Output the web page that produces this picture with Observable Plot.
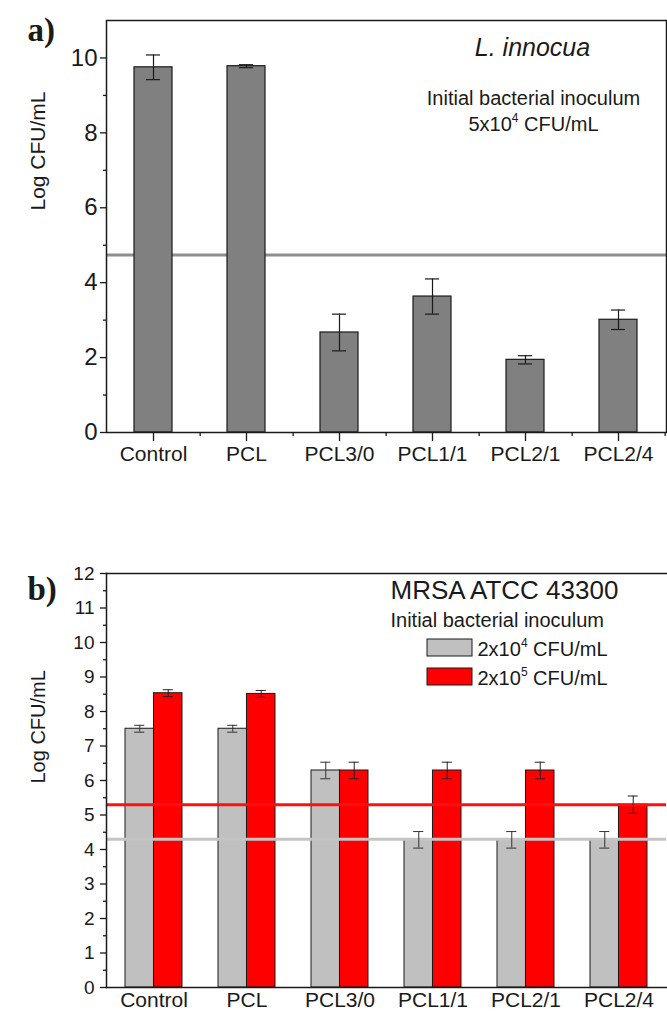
<!DOCTYPE html>
<html><head><meta charset="utf-8">
<script src="https://cdn.jsdelivr.net/npm/d3@7"></script>
<script src="https://cdn.jsdelivr.net/npm/@observablehq/plot@0.6"></script>
<style>
body{margin:0;background:#fff;}
#chart{width:667px;height:1015px;overflow:hidden;}
#chart svg{display:block;}
</style></head><body><div id="chart"></div>
<script>
// ---- data ----
const categories = ["Control", "PCL", "PCL3/0", "PCL1/1", "PCL2/1", "PCL2/4"];
// a) L. innocua
const innocuaMean = [9.75, 9.78, 2.67, 3.63, 1.94, 3.01];
const innocuaErr  = [0.33, 0.04, 0.49, 0.47, 0.11, 0.26];
const innocuaInoculum = 4.74;
const topMajorTicks = [0, 2, 4, 6, 8, 10];
const topMinorTicks = [1, 3, 5, 7, 9];
// b) MRSA ATCC 43300
const seriesNames = ["2x10^4 CFU/mL", "2x10^5 CFU/mL"];
const mrsaLowMean  = [7.50, 7.50, 6.29, 4.28, 4.28, 4.28];
const mrsaLowErr   = [0.10, 0.10, 0.24, 0.24, 0.24, 0.24];
const mrsaHighMean = [8.53, 8.51, 6.29, 6.29, 6.29, 5.30];
const mrsaHighErr  = [0.10, 0.10, 0.24, 0.24, 0.24, 0.25];
const mrsaInoculum = [4.3, 5.3];
const botMajorTicks = [0,1,2,3,4,5,6,7,8,9,10,11,12];
const botMinorTicks = [0.5,1.5,2.5,3.5,4.5,5.5,6.5,7.5,8.5,9.5,10.5,11.5];

const FONT = "'Liberation Sans', Arial, Helvetica, sans-serif";
const INK = "#1a1a1a";
const W = 667, ML = 106, MR = 1;
const step = (W - ML - MR) / categories.length;

const topRows = categories.map((c, i) => ({cat: c, mean: innocuaMean[i], err: innocuaErr[i]}));
const lowRows = categories.map((c, i) => ({cat: c, mean: mrsaLowMean[i], err: mrsaLowErr[i]}));
const highRows = categories.map((c, i) => ({cat: c, mean: mrsaHighMean[i], err: mrsaHighErr[i]}));

function supers(svg) {
  d3.select(svg).selectAll("text").each(function () {
    const t = this.textContent;
    const m = t.match(/^(.*)\^(\d)(.*)$/);
    if (!m) return;
    const fs = parseFloat(this.parentNode.getAttribute("font-size")) || 20;
    const sel = d3.select(this); sel.text(null);
    sel.append("tspan").text(m[1]);
    sel.append("tspan").attr("dy", -0.45 * fs).attr("font-size", 0.6 * fs).text(m[2]);
    sel.append("tspan").attr("dy", 0.45 * fs).text(m[3]);
  });
}
function axisFont(svg, which, size) {
  d3.select(svg).selectAll("g").filter(function () {
    const a = this.getAttribute("aria-label") || "";
    return a.startsWith(which + "-axis") && a.includes("label");
  }).style("font-size", size + "px").selectAll("text").style("font-size", size + "px");
}

// ---- a) ----
const topPlot = Plot.plot({
  width: W, height: 500, marginTop: 20, marginRight: MR, marginBottom: 68, marginLeft: ML,
  style: {fontFamily: FONT, fontSize: "21px", color: INK, background: "white", overflow: "visible"},
  x: {domain: categories, paddingInner: 0.59, paddingOuter: 0.295, label: null},
  y: {domain: [0, 11], label: null},
  marks: [
    Plot.ruleY([innocuaInoculum], {stroke: "#8e8e8e", strokeWidth: 3}),
    Plot.barY(topRows, {x: "cat", y: "mean", fill: "#808080", stroke: INK, strokeWidth: 1.2}),
    Plot.ruleX(topRows, {x: "cat", y1: d => d.mean - d.err, y2: d => d.mean + d.err, stroke: INK, strokeWidth: 1.2}),
    Plot.tickY(topRows, {x: "cat", y: d => d.mean - d.err, insetLeft: 12, insetRight: 12, stroke: INK, strokeWidth: 1.2}),
    Plot.tickY(topRows, {x: "cat", y: d => d.mean + d.err, insetLeft: 12, insetRight: 12, stroke: INK, strokeWidth: 1.2}),
    Plot.frame({stroke: INK, strokeWidth: 1.5}),
    Plot.axisY({ticks: topMajorTicks, tickSize: 6, tickPadding: 3, label: null, stroke: INK, strokeWidth: 1.3}),
    Plot.axisY({ticks: topMinorTicks, tickSize: 3, tickFormat: () => "", label: null, stroke: INK, strokeWidth: 1.3}),
    Plot.axisX({tickSize: 9, tickPadding: 5, label: null, stroke: INK, strokeWidth: 1.3}),
    Plot.axisX({tickSize: 4, tickFormat: () => "", label: null, dx: step / 2, stroke: INK, strokeWidth: 1.3}),
    Plot.text(["Log CFU/mL"], {frameAnchor: "left", rotate: -90, dx: -68, dy: -16, fontSize: 21, lineAnchor: "middle", fill: INK}),
    Plot.text(["a)"], {frameAnchor: "top-left", dx: -79, dy: -3, lineAnchor: "top", textAnchor: "start", fontSize: 33, fontWeight: "bold", fontFamily: "'Liberation Serif', 'Times New Roman', serif", fill: INK}),
    Plot.text(["L. innocua"], {frameAnchor: "top-right", dx: -134, dy: 35, lineAnchor: "bottom", textAnchor: "middle", fontSize: 25, fontStyle: "italic", fill: INK}),
    Plot.text(["Initial bacterial inoculum"], {frameAnchor: "top-right", dx: -133, dy: 84, lineAnchor: "bottom", textAnchor: "middle", fontSize: 20, fill: INK}),
    Plot.text(["5x10^4 CFU/mL"], {frameAnchor: "top-right", dx: -133, dy: 110, lineAnchor: "bottom", textAnchor: "middle", fontSize: 20, fill: INK})
  ]
});
supers(topPlot);
axisFont(topPlot, "y", 24);
axisFont(topPlot, "x", 21);

// ---- b) ----
const pi = 0.39;
const bw = step * (1 - pi);
const half = bw / 2, cap = 10;
const lowCapL = bw / 4 - cap / 2, lowCapR = bw - bw / 4 - cap / 2;
const botPlot = Plot.plot({
  width: W, height: 515, marginTop: 73, marginRight: MR, marginBottom: 28, marginLeft: ML,
  style: {fontFamily: FONT, fontSize: "18px", color: INK, background: "white", overflow: "visible"},
  x: {domain: categories, paddingInner: pi, paddingOuter: pi / 2, label: null},
  y: {domain: [0, 12], label: null},
  marks: [
    Plot.barY(lowRows, {x: "cat", y: "mean", insetRight: half, fill: "#c0c0c0", stroke: INK, strokeWidth: 1}),
    Plot.barY(highRows, {x: "cat", y: "mean", insetLeft: half, fill: "#ff0000", stroke: INK, strokeWidth: 1}),
    Plot.ruleY([mrsaInoculum[0]], {stroke: "#c4c4c4", strokeWidth: 3}),
    Plot.ruleY([mrsaInoculum[1]], {stroke: "#ff1010", strokeWidth: 3}),
    Plot.ruleX(lowRows, {x: "cat", dx: -bw / 4, y1: d => d.mean - d.err, y2: d => d.mean + d.err, stroke: "#333", strokeWidth: 1}),
    Plot.tickY(lowRows, {x: "cat", y: d => d.mean - d.err, insetLeft: lowCapL, insetRight: lowCapR, stroke: "#333", strokeWidth: 1}),
    Plot.tickY(lowRows, {x: "cat", y: d => d.mean + d.err, insetLeft: lowCapL, insetRight: lowCapR, stroke: "#333", strokeWidth: 1}),
    Plot.ruleX(highRows, {x: "cat", dx: bw / 4, y1: d => d.mean - d.err, y2: d => d.mean + d.err, stroke: "#222", strokeWidth: 1}),
    Plot.tickY(highRows, {x: "cat", y: d => d.mean - d.err, insetLeft: lowCapR, insetRight: lowCapL, stroke: "#222", strokeWidth: 1}),
    Plot.tickY(highRows, {x: "cat", y: d => d.mean + d.err, insetLeft: lowCapR, insetRight: lowCapL, stroke: "#222", strokeWidth: 1}),
    Plot.frame({anchor: "top", stroke: INK, strokeWidth: 1.5}),
    Plot.frame({anchor: "left", stroke: INK, strokeWidth: 1.5}),
    Plot.frame({anchor: "bottom", stroke: INK, strokeWidth: 1.5}),
    Plot.axisY({ticks: botMajorTicks, tickSize: 6, tickPadding: 6, label: null, stroke: INK, strokeWidth: 1.3}),
    Plot.axisY({ticks: botMinorTicks, tickSize: 3, tickFormat: () => "", label: null, stroke: INK, strokeWidth: 1.3}),
    Plot.axisX({tickSize: 0, tickPadding: 5, label: null}),
    Plot.text(["Log CFU/mL"], {frameAnchor: "left", rotate: -90, dx: -68, dy: 3, fontSize: 20, lineAnchor: "middle", fill: INK}),
    Plot.text(["b)"], {frameAnchor: "top-left", dx: -79, dy: 3, lineAnchor: "top", textAnchor: "start", fontSize: 33, fontWeight: "bold", fontFamily: "'Liberation Serif', 'Times New Roman', serif", fill: INK}),
    Plot.text(["MRSA ATCC 43300"], {frameAnchor: "top-right", dx: -162, dy: 25, lineAnchor: "bottom", textAnchor: "middle", fontSize: 26, fill: INK}),
    Plot.text(["Initial bacterial inoculum"], {frameAnchor: "top-right", dx: -276, dy: 53, lineAnchor: "bottom", textAnchor: "start", fontSize: 20, fill: INK}),
    Plot.text([seriesNames[0]], {frameAnchor: "top-right", dx: -189, dy: 82, lineAnchor: "bottom", textAnchor: "start", fontSize: 20, fill: INK}),
    Plot.text([seriesNames[1]], {frameAnchor: "top-right", dx: -189, dy: 111, lineAnchor: "bottom", textAnchor: "start", fontSize: 20, fill: INK})
  ]
});
supers(botPlot);
axisFont(botPlot, "y", 19);
axisFont(botPlot, "x", 21);
// legend swatches
const sw = d3.select(botPlot).append("g").attr("stroke", INK).attr("stroke-width", 1);
const fx = W - MR, fy = 73;
[["#c0c0c0", 66], ["#ff0000", 95]].forEach(([c, oy]) => {
  sw.append("rect").attr("x", fx - 239).attr("y", fy + oy).attr("width", 45).attr("height", 17).attr("fill", c);
});

document.getElementById("chart").append(topPlot, botPlot);
</script>
</body></html>
